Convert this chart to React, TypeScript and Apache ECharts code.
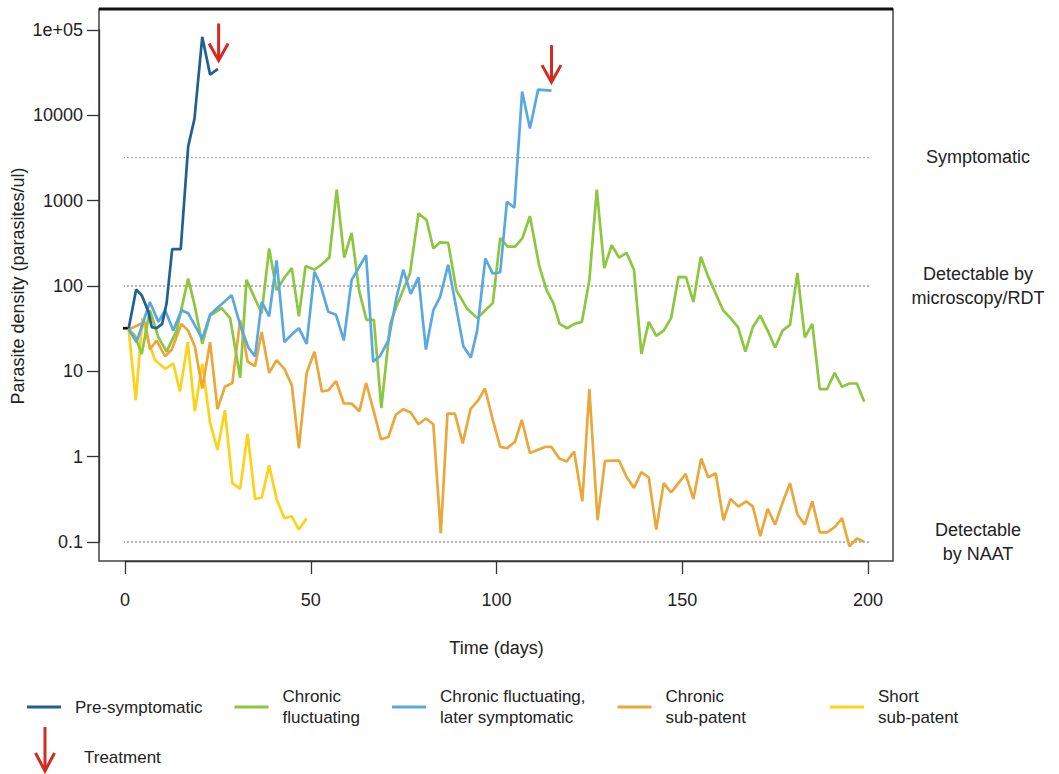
import React, { useEffect, useRef } from "react";
import * as echarts from "echarts";

// ---- Data (day, parasites/ul) ----
const preSymptomatic: [number, number][] = [
  [1, 32], [3, 91], [4.5, 78], [6.3, 50], [7.2, 33], [8.5, 32], [10, 36], [11.2, 63],
  [12.7, 270], [15, 270], [17, 4300], [18.7, 9100], [20.8, 83000], [22.9, 30000], [25, 35000],
];

const chronicFluctuating: [number, number][] = [
  [1, 31], [2.7, 26], [4.5, 16], [6.7, 52], [9, 25], [11.2, 17], [13.9, 30], [17, 122],
  [18.8, 58], [20.8, 21], [22.9, 45], [26, 55], [28.3, 42], [31, 8.4], [32.7, 118], [35, 71],
  [36.8, 48], [38.8, 275], [40.8, 89], [42.9, 125], [44.9, 162], [46.8, 44], [48.6, 171],
  [51, 155], [53, 180], [55, 215], [57, 1350], [59, 215], [61, 420], [63, 89], [65, 40],
  [67, 40], [69, 3.7], [71.4, 36], [73.1, 58], [76.7, 140], [79, 710], [81.2, 590], [83, 275],
  [84.8, 325], [87, 320], [89.2, 89], [92, 55], [94.8, 42], [97, 52], [99, 63], [101, 365],
  [103, 290], [105, 290], [107, 365], [109, 660], [111.5, 172], [113.5, 89], [115.3, 63],
  [117, 36], [119, 32], [121, 36], [123, 38], [125, 118], [127, 1350], [129, 162], [131, 300],
  [133, 215], [135, 245], [137, 155], [139, 16], [141, 38], [143, 26], [145, 30], [147, 42],
  [149, 128], [151, 127], [153, 65], [155, 220], [157, 128], [161, 52], [163, 42], [165, 33],
  [167, 17], [169, 33], [171, 45], [173, 30], [175, 19], [177, 30], [179, 35], [181, 142],
  [183, 25], [185, 36], [187, 6.2], [189, 6.2], [191, 9.6], [193, 6.6], [195, 7.2], [197, 7.2],
  [199, 4.4],
];

const chronicLaterSymptomatic: [number, number][] = [
  [1, 31], [3.1, 22], [6.7, 65], [9, 38], [10.8, 52], [13, 30], [15.2, 52], [17, 48],
  [20.8, 24], [22.9, 46], [25, 56], [28.7, 78], [31, 35], [33.2, 19], [35, 15], [36.8, 65],
  [38.8, 44], [40.8, 200], [42.9, 22], [44.9, 27], [46.8, 32], [48.9, 21], [51, 147],
  [52.5, 107], [54.7, 50], [56.8, 46], [58.9, 23], [61, 118], [64.9, 230], [66.8, 13],
  [68.6, 15], [70.9, 23], [73.1, 74], [74.9, 155], [76.9, 81], [79, 126], [81, 18], [83, 52],
  [84.8, 74], [87, 178], [91.1, 19.5], [93.1, 14.5], [94.8, 30], [97, 210], [99, 140],
  [101, 145], [102.8, 970], [104.8, 830], [106.9, 19000], [109, 7000], [111.2, 20000],
  [114.8, 19500],
];

const chronicSubPatent: [number, number][] = [
  [1, 31], [5.4, 38], [6.7, 18], [8.5, 23], [10.8, 15], [12.6, 18], [15.2, 36], [17, 30],
  [18.8, 19.5], [20.8, 6.3], [22.9, 22], [24.9, 3.6], [26.9, 6.6], [28.9, 7.3], [31, 40],
  [33, 13], [35, 11.5], [36.8, 29], [38.8, 9.6], [40.8, 13.5], [42.9, 10.7], [44.9, 6.9],
  [46.8, 1.26], [48.9, 9.6], [51, 17], [53, 5.8], [54.7, 6], [56.8, 7.7], [58.9, 4.2],
  [61, 4.2], [63.1, 3.4], [64.9, 7.3], [66.8, 3.6], [68.9, 1.6], [70.9, 1.7], [72.9, 3.1],
  [74.9, 3.6], [76.9, 3.3], [79, 2.4], [81, 2.8], [83, 2.4], [85, 0.126], [86.8, 3.2],
  [88.8, 3.2], [90.9, 1.43], [93, 3.6], [95.1, 4.6], [96.9, 6.3], [99, 2.7], [101, 1.3],
  [102.9, 1.26], [105, 1.5], [106.8, 2.7], [109, 1.1], [111, 1.2], [113.1, 1.3], [114.8, 1.3],
  [116.9, 0.95], [118.9, 0.88], [120.9, 1.15], [123.1, 0.3], [125, 6.2], [127.2, 0.18],
  [129.2, 0.89], [131, 0.9], [133, 0.9], [135, 0.58], [137, 0.43], [139, 0.66], [141, 0.57],
  [143, 0.14], [145, 0.49], [147, 0.38], [149, 0.49], [150.9, 0.63], [153, 0.32], [155.1, 0.95],
  [157, 0.57], [159, 0.64], [161.1, 0.18], [163, 0.32], [165.1, 0.26], [167.2, 0.3], [169, 0.26],
  [171, 0.117], [173, 0.245], [175, 0.16], [176.9, 0.28], [179, 0.49], [181, 0.21], [183, 0.16],
  [185, 0.3], [187, 0.13], [189, 0.13], [191.1, 0.15], [193, 0.19], [195, 0.089], [197, 0.11],
  [199, 0.1],
];

const shortSubPatent: [number, number][] = [
  [1, 31], [2.9, 4.6], [4.7, 42], [6.3, 22], [8.1, 13.5], [10.8, 10.7], [13, 12.3],
  [14.8, 5.8], [16.9, 22], [18.8, 3.4], [20.8, 12.3], [22.9, 2.5], [24.9, 1.2], [26.9, 3.5],
  [28.9, 0.49], [31, 0.42], [33, 1.86], [35, 0.32], [36.8, 0.33], [38.8, 0.79], [40.8, 0.32],
  [42.9, 0.19], [44.9, 0.2], [46.8, 0.14], [48.9, 0.19],
];

const initialInfection: [number, number][] = [[-7, 32], [1, 32]];

// Treatment arrows: [day, density at arrow tip]
const treatment: [number, number][] = [[25.2, 44000], [114.8, 24500]];

// Threshold levels
const plotDayRange = [-7, 206.7];
const symptomaticLevel = 3200;
const microscopyLevel = 100;
const naatLevel = 0.1;

// Axis ticks
const xTicks = { min: 0, max: 200, interval: 50 };
const yRange = { min: 0.1, max: 100000 };

const seriesNames = [
  "Pre-symptomatic",
  "Chronic\nfluctuating",
  "Chronic fluctuating,\nlater symptomatic",
  "Chronic\nsub-patent",
  "Short\nsub-patent",
];
const seriesColors = ["#22618f", "#8dc63f", "#5ba8e0", "#eaa83a", "#fdd21a"];
const RED = "#d42a20";
const FONT = "'Liberation Sans', Arial, Helvetica, sans-serif";
const TEXT = "#222";

export default function App() {
  const ref = useRef<HTMLDivElement>(null);
  useEffect(() => {
    document.body.style.margin = "0";
    if (!ref.current) return;
    const chart = echarts.init(ref.current, null, { renderer: "svg" });

    const threshold = (name: string, level: number, color: string) => ({
      name,
      type: "line",
      data: plotDayRange.map((d) => [d, level]),
      showSymbol: false,
      symbol: "none",
      clip: false,
      silent: true,
      z: 1,
      lineStyle: { color, width: 1.2, type: [2, 2] },
    });

    const dataSeries = [preSymptomatic, chronicFluctuating, chronicLaterSymptomatic, chronicSubPatent, shortSubPatent];
    const order = [4, 3, 1, 2, 0];

    const legendText = { fontSize: 17, color: TEXT, fontFamily: FONT, lineHeight: 21, padding: [0, 0, 0, 9] };

    const option: any = {
      animation: false,
      textStyle: { fontFamily: FONT, color: TEXT },
      grid: { left: 125, right: 191, top: 30, bottom: 232, outerBoundsMode: "none", containLabel: false },
      xAxis: {
        type: "value",
        min: xTicks.min,
        max: xTicks.max,
        interval: xTicks.interval,
        offset: 19,
        axisLine: { onZero: false, lineStyle: { color: "#333", width: 1.3 } },
        axisTick: { length: 13, lineStyle: { color: "#333", width: 1.3 } },
        axisLabel: { fontSize: 18, color: TEXT, margin: 30, fontFamily: FONT },
        splitLine: { show: false },
        name: "Time (days)",
        nameLocation: "middle",
        nameGap: 78,
        nameMoveOverlap: false,
        nameTextStyle: { fontSize: 18, color: TEXT, fontFamily: FONT },
      },
      yAxis: {
        type: "log",
        logBase: 10,
        min: yRange.min,
        max: yRange.max,
        offset: 26,
        axisLine: { show: true, onZero: false, lineStyle: { color: "#333", width: 1.3 } },
        axisTick: { show: true, length: 12, lineStyle: { color: "#333", width: 1.3 } },
        axisLabel: {
          fontSize: 18,
          color: TEXT,
          margin: 16,
          fontFamily: FONT,
          formatter: (v: number) => {
            const e = Math.round(Math.log10(v));
            if (e >= 5) return "1e+0" + e;
            if (e < 0) return String(Math.pow(10, e).toFixed(-e));
            return String(Math.pow(10, e));
          },
        },
        splitLine: { show: false },
        minorTick: { show: false },
        name: "Parasite density (parasites/ul)",
        nameLocation: "middle",
        nameGap: 72,
        nameMoveOverlap: false,
        nameTextStyle: { fontSize: 18, color: TEXT, fontFamily: FONT },
      },
      legend: [
        {
          data: seriesNames.slice(0, 4),
          left: 27,
          top: 686,
          padding: 0,
          orient: "horizontal",
          icon: "rect",
          itemWidth: 34,
          itemHeight: 3,
          itemGap: 32,
          selectedMode: false,
          textStyle: legendText,
        },
        {
          data: seriesNames.slice(4),
          left: 830,
          top: 686,
          padding: 0,
          icon: "rect",
          itemWidth: 34,
          itemHeight: 3,
          selectedMode: false,
          textStyle: legendText,
        },
      ],
      graphic: [
        { type: "rect", shape: { x: 99, y: 9, width: 794, height: 552 }, style: { fill: "none", stroke: "#444", lineWidth: 1.5 }, silent: true, z: 0 },
        { type: "line", shape: { x1: 99, y1: 9, x2: 893, y2: 9 }, style: { stroke: "#111", lineWidth: 3 }, silent: true, z: 0 },
        { type: "text", x: 978, y: 157, style: { text: "Symptomatic", fill: TEXT, font: `18px ${FONT}`, align: "center", verticalAlign: "middle" } },
        { type: "text", x: 978, y: 286, style: { text: "Detectable by\nmicroscopy/RDT", fill: TEXT, font: `18px ${FONT}`, lineHeight: 24, align: "center", verticalAlign: "middle" } },
        { type: "text", x: 978, y: 542, style: { text: "Detectable\nby NAAT", fill: TEXT, font: `18px ${FONT}`, lineHeight: 24, align: "center", verticalAlign: "middle" } },
        // Treatment legend
        { type: "line", shape: { x1: 45, y1: 727, x2: 45, y2: 770 }, style: { stroke: RED, lineWidth: 3 } },
        { type: "polyline", shape: { points: [[35.5, 753], [45, 771], [54.5, 753]] }, style: { stroke: RED, lineWidth: 3, fill: "none" } },
        { type: "text", x: 84, y: 757, style: { text: "Treatment", font: `17px ${FONT}`, fill: TEXT, verticalAlign: "middle" } },
      ],
      series: [
        threshold("symptomatic", symptomaticLevel, "#aaa"),
        threshold("microscopy", microscopyLevel, "#666"),
        threshold("naat", naatLevel, "#666"),
        {
          name: "initial",
          type: "line",
          data: initialInfection,
          showSymbol: false,
          symbol: "none",
          clip: false,
          silent: true,
          z: 3,
          lineStyle: { color: "#111", width: 2.7 },
        },
        ...order.map((i) => ({
          name: seriesNames[i],
          type: "line",
          data: dataSeries[i],
          showSymbol: false,
          symbol: "none",
          clip: false,
          silent: true,
          z: 3,
          color: seriesColors[i],
          lineStyle: { color: seriesColors[i], width: 2.7 },
        })),
        {
          name: "Treatment",
          type: "custom",
          data: treatment,
          clip: false,
          silent: true,
          z: 5,
          renderItem: (_params: any, api: any) => {
            const p = api.coord([api.value(0), api.value(1)]);
            return {
              type: "group",
              children: [
                { type: "line", shape: { x1: p[0], y1: p[1] - 37, x2: p[0], y2: p[1] - 1 }, style: { stroke: RED, lineWidth: 3 } },
                {
                  type: "polyline",
                  shape: { points: [[p[0] - 9.5, p[1] - 17], [p[0], p[1]], [p[0] + 9.5, p[1] - 17]] },
                  style: { stroke: RED, lineWidth: 3, fill: "none" },
                },
              ],
            };
          },
        },
      ],
    };
    chart.setOption(option);
    return () => chart.dispose();
  }, []);
  return <div ref={ref} style={{ width: 1059, height: 774 }} />;
}
